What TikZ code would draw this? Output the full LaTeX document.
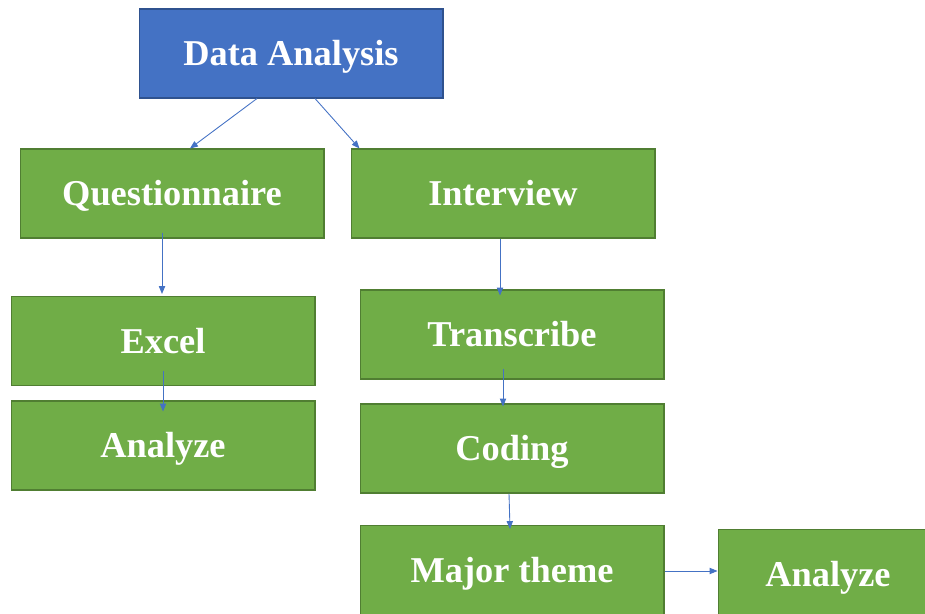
\documentclass[tikz,border=0pt]{standalone}
\usepackage{fontspec}
\setmainfont{Liberation Serif}
\usetikzlibrary{arrows.meta, calc}
\definecolor{BF}{RGB}{68,114,196}
\definecolor{BD}{RGB}{47,82,143}
\definecolor{GF}{RGB}{112,173,71}
\definecolor{GD}{RGB}{80,126,50}
\begin{document}
\begin{tikzpicture}[
  x=0.02cm, y=-0.02cm,
  box/.style={draw=GD, fill=GF, line width=0.6pt,
              minimum width=6.08cm, minimum height=1.78cm,
              text height=13.7pt, text depth=0pt,
              text=white, font=\fontsize{20.7}{24}\selectfont\bfseries},
  head/.style={box, draw=BD, fill=BF},
  link/.style={draw=BF, line width=0.5pt, -{Triangle[length=4.5pt,width=3.6pt]}}
]
\useasboundingbox (0,0) rectangle (925,614);
\clip (0,0) rectangle (925,614);

% top of the tree
\node[head] (DA) at (291,53.5) {Data Analysis};

% questionnaire branch
\node[box] (Q)  at (172,193.5) {Questionnaire};
\node[box] (E)  at (163,341)   {Excel};
\node[box] (AL) at (163,445.5) {Analyze};

% interview branch
\node[box] (I)  at (503,193.5) {Interview};
\node[box] (T)  at (512,334.5) {Transcribe};
\node[box] (C)  at (512,448.5) {Coding};
\node[box] (M)  at (512,570)   {Major theme};
\node[box, minimum width=4.4cm] (AR) at (828,574) {Analyze};

% connectors
\draw[link] ($(DA.south)+(-34,0)$) -- ($(Q.north)+(18,0)$);
\draw[link] ($(DA.south)+(24,0)$)  -- ($(I.north west)+(9,0)$);
\draw[link] ($(Q.south)+(-10,-6)$) -- ($(E.north)+(-1,-2)$);
\draw[link] ($(E.south)+(0,-15)$)  -- ($(AL.north)+(0,11)$);
\draw[link] ($(I.south)+(-3,0)$)   -- ($(T.north)+(-12,6)$);
\draw[link] ($(T.south)+(-9,-11)$) -- ($(C.north)+(-9,3)$);
\draw[link] ($(C.south)+(-3,0)$)   -- ($(M.north)+(-2,4)$);
\draw[link] ($(M.east)+(0,1)$)     -- ($(AR.west)+(0,-3)$);
\end{tikzpicture}
\end{document}
